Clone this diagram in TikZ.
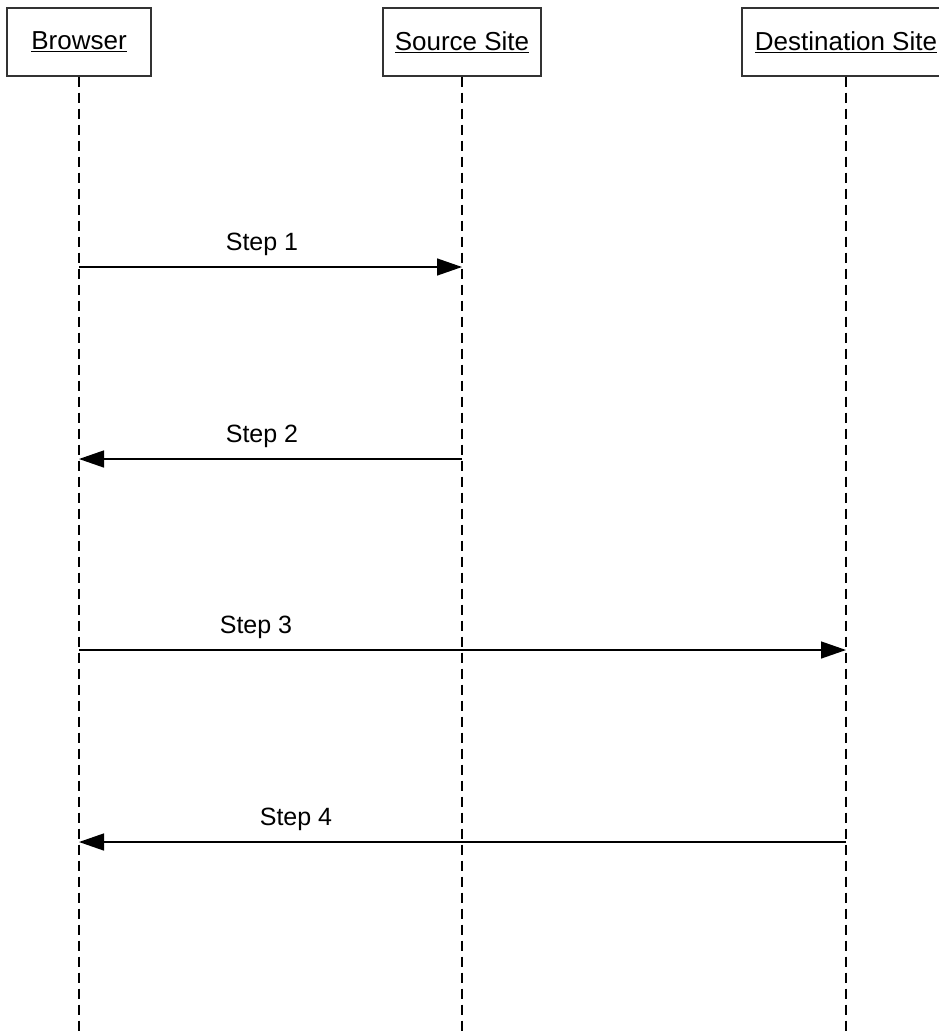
\documentclass[tikz,border=0pt]{standalone}
\usepackage{fontspec}
\setmainfont{Liberation Sans}
\usetikzlibrary{arrows.meta}
\begin{document}
\begin{tikzpicture}
	[x=1pt,y=-1pt,
	actor/.style={draw,line width=1.3pt,draw=black!80,minimum height=68pt,inner sep=0pt,font=\fontsize{26}{30}\selectfont},
	lifeline/.style={line width=1.2pt,dash pattern=on 10pt off 6pt},
	msg/.style={line width=1.4pt,-{Triangle[length=25pt,width=17pt]}},
	steplabel/.style={anchor=base,font=\fontsize{25}{30}\selectfont}]
	\useasboundingbox (0,0) rectangle (938,1034);
	\node[actor,minimum width=144pt,name=browser] at (79,42) {\underline{Browser}};
	\node[actor,minimum width=158pt,name=source] at (462,42) {\underline{Source Site}};
	\node[actor,minimum width=208pt,name=dest] at (846,42) {\underline{Destination Site}};
	\coordinate (browserend) at (79,1040);
	\coordinate (sourceend) at (462,1040);
	\coordinate (destend) at (846,1040);
	\draw[lifeline](browser)--(browserend);
	\draw[lifeline](source)--(sourceend);
	\draw[lifeline](dest)--(destend);
	% messages
	\coordinate (b1) at (79,267); \coordinate (s1) at (462,267);
	\coordinate (b2) at (79,459); \coordinate (s2) at (462,459);
	\coordinate (b3) at (79,650); \coordinate (d3) at (846,650);
	\coordinate (b4) at (79,842); \coordinate (d4) at (846,842);
	\draw[msg](b1)--(s1);
	\draw[msg](s2)--(b2);
	\draw[msg](b3)--(d3);
	\draw[msg](d4)--(b4);
	\node[steplabel,name=l1] at (262,250) {Step 1};
	\node[steplabel,name=l2] at (262,442) {Step 2};
	\node[steplabel,name=l3] at (256,633) {Step 3};
	\node[steplabel,name=l4] at (296,825) {Step 4};
\end{tikzpicture}
\end{document}
